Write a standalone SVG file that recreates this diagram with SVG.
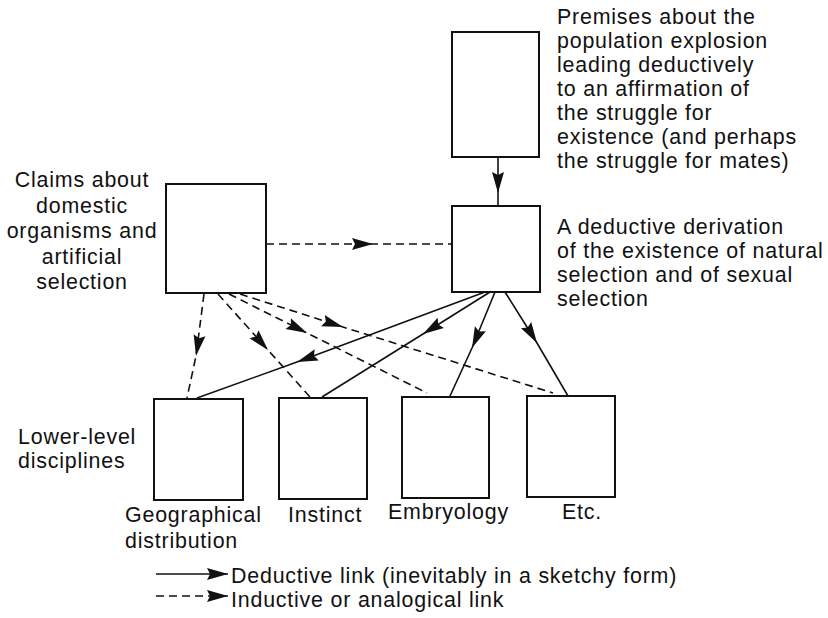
<svg xmlns="http://www.w3.org/2000/svg" width="828" height="618" viewBox="0 0 828 618">
<style>
text{font-family:"Liberation Sans",Arial,sans-serif;font-size:21.4px;letter-spacing:0.8px;fill:#111}
.box{fill:#fff;stroke:#111;stroke-width:2}
.sol{fill:none;stroke:#111;stroke-width:1.6}
.dash{fill:none;stroke:#111;stroke-width:1.6;stroke-dasharray:8 5}
.mid{marker-mid:url(#ah)}
.end{marker-end:url(#ah)}
</style>
<defs>
<marker id="ah" markerUnits="userSpaceOnUse" markerWidth="24" markerHeight="14" viewBox="-22 -7 24 14" refX="0" refY="0" orient="auto">
<path d="M0,0 L-21,-6 L-18,0 L-21,6 z" fill="#111"/>
</marker>
</defs>
<rect width="828" height="618" fill="#fff"/>
<g id="connectors">
<path class="sol mid" d="M498,157 L498,193 L498,206"/>
<path class="dash mid" d="M266,244 L373,244 L452,244"/>
<path class="dash mid" d="M204,294 L196,356 L187,398"/>
<path class="dash mid" d="M218,294 L268,350 L310,397"/>
<path class="dash mid" d="M229,294 L307,333 L427,393"/>
<path class="dash mid" d="M240,294 L343,327 L553,393"/>
<path class="sol mid" d="M485,292 L297,362 L197,398"/>
<path class="sol mid" d="M490,292 L423,334 L322,397"/>
<path class="sol mid" d="M495,292 L472,348 L450,396"/>
<path class="sol mid" d="M505,292 L537,343 L568,396"/>
</g>
<g id="premises">
<rect class="box" x="452" y="32" width="87" height="125"/>
<text x="557" y="24">Premises about the</text>
<text x="557" y="48">population explosion</text>
<text x="557" y="72">leading deductively</text>
<text x="557" y="96">to an affirmation of</text>
<text x="557" y="120">the struggle for</text>
<text x="557" y="144">existence (and perhaps</text>
<text x="557" y="168">the struggle for mates)</text>
</g>
<g id="derivation">
<rect class="box" x="452" y="206" width="88" height="86"/>
<text x="557" y="234">A deductive derivation</text>
<text x="557" y="258">of the existence of natural</text>
<text x="557" y="282">selection and of sexual</text>
<text x="557" y="306">selection</text>
</g>
<g id="claims">
<rect class="box" x="166" y="184" width="100" height="109"/>
<text x="82" y="187" text-anchor="middle">Claims about</text>
<text x="82" y="212.5" text-anchor="middle">domestic</text>
<text x="82" y="238" text-anchor="middle">organisms and</text>
<text x="82" y="263.5" text-anchor="middle">artificial</text>
<text x="82" y="289" text-anchor="middle">selection</text>
</g>
<g id="lower-label">
<text x="18" y="444">Lower-level</text>
<text x="18" y="468">disciplines</text>
</g>
<g id="geography">
<rect class="box" x="154" y="399" width="89" height="101"/>
<text x="125" y="522">Geographical</text>
<text x="125" y="548">distribution</text>
</g>
<g id="instinct">
<rect class="box" x="279" y="398" width="88" height="101"/>
<text x="288" y="522">Instinct</text>
</g>
<g id="embryology">
<rect class="box" x="402" y="397" width="87" height="101"/>
<text x="388" y="519">Embryology</text>
</g>
<g id="etc">
<rect class="box" x="527" y="396" width="88" height="101"/>
<text x="562" y="519">Etc.</text>
</g>
<g id="legend">
<path class="sol end" d="M156,574 L228,574"/>
<path class="dash end" d="M156,596 L228,596"/>
<text x="231" y="583">Deductive link (inevitably in a sketchy form)</text>
<text x="231" y="607">Inductive or analogical link</text>
</g>
</svg>
